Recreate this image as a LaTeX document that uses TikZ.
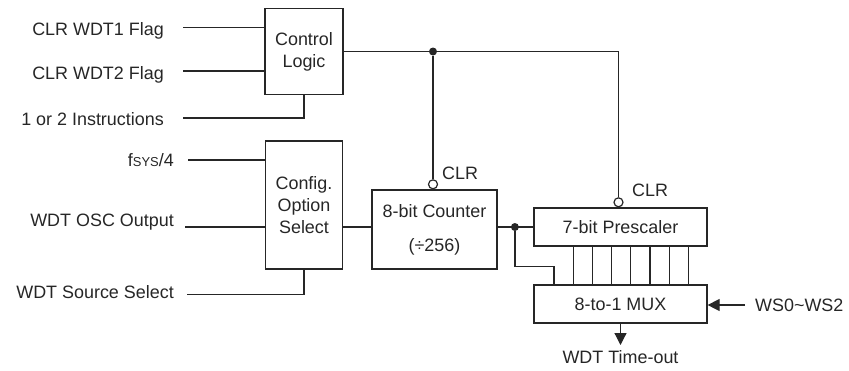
\documentclass[tikz,border=0pt]{standalone}
\usepackage{fontspec}
\setmainfont{Liberation Sans}
\usetikzlibrary{positioning,arrows.meta}
\begin{document}
\begin{tikzpicture}[x=1bp,y=-1bp,
		every node/.style={font=\fontsize{18}{22}\selectfont, text=black!85},
		wire/.style={draw=black!85, line width=1.2bp},
		block/.style={draw=black!85, line width=1.2bp, align=center, inner sep=0pt},
		lbl/.style={inner sep=0pt, text height=12.9bp, text depth=0pt},
		bubble/.style={circle, draw=black!85, fill=white, line width=1.2bp, minimum size=9bp, inner sep=0pt},
		dot/.style={circle, fill=black!85, minimum size=8bp, inner sep=0pt},
		tip/.style={-{Triangle[length=12bp,width=12bp]}}]
		\useasboundingbox (0,0) rectangle (849,370);

		% blocks
		\node[block, minimum width=78bp, minimum height=86bp] (ctrl) at (304,51.5) {Control\\Logic};
		\node[block, minimum width=77bp, minimum height=128bp] (cfg) at (304,205) {Config.\\Option\\Select};
		\node[block, minimum width=125bp, minimum height=79bp] (cnt) at (434.5,229.5) {8-bit Counter\\[12bp](÷256)};
		\node[block, minimum width=173bp, minimum height=38bp] (pre) at (620.5,227) {7-bit Prescaler};
		\node[block, minimum width=173bp, minimum height=38bp] (mux) at (620.5,304) {8-to-1 MUX};

		% input labels
		\node[lbl, anchor=east] (t1) at (164,29) {CLR WDT1 Flag};
		\node[lbl, anchor=east] (t2) at (164,73) {CLR WDT2 Flag};
		\node[lbl, anchor=east] (t3) at (164,119) {1 or 2 Instructions};
		\node[lbl, anchor=east] (t4) at (174,160.5) {f{\fontsize{13}{13}\selectfont SYS}/4};
		\node[lbl, anchor=east] (t5) at (174,220) {WDT OSC Output};
		\node[lbl, anchor=east] (t6) at (174,292.5) {WDT Source Select};

		\coordinate (a1) at (183,27.7);
		\coordinate (a2) at (183,71);
		\coordinate (a3) at (183,118);
		\coordinate (b1) at (188,160);
		\coordinate (b2) at (185,227);
		\coordinate (b3) at (187,294.3);

		\draw[wire] (a1) -- (a1 -| ctrl.west);
		\draw[wire] (a2) -- (a2 -| ctrl.west);
		\draw[wire] (a3) -| (ctrl.south);
		\draw[wire] (b1) -- (b1 -| cfg.west);
		\draw[wire] (b2) -- (b2 -| cfg.west);
		\draw[wire] (b3) -| (cfg.south);
		\draw[wire] (b2 -| cfg.east) -- (b2 -| cnt.west);

		% clear lines
		\node[bubble, anchor=south] (cb) at ([xshift=-1.5bp]cnt.north) {};
		\node[bubble, anchor=south] (pb) at ([xshift=-2bp]pre.north) {};
		\node[lbl, anchor=west] (cl1) at (442,173) {CLR};
		\node[lbl, anchor=west] (cl2) at (632,190) {CLR};
		\draw[wire] (ctrl.east) -| (pb.north);
		\node[dot] (j1) at (ctrl.east -| cb) {};
		\draw[wire] (j1) -- (cb.north);

		% counter to prescaler and mux
		\node[dot] (j2) at ([xshift=-18.5bp]pre.west) {};
		\draw[wire] (cnt.east |- j2) -- (pre.west);
		\coordinate (m0) at ([xshift=-66.5bp]mux.north);
		\draw[wire] (j2) |- ([yshift=18.3bp]m0) -- (m0);
		\foreach \i in {1,...,7}
			\draw[wire] ([xshift={-66.5bp+\i*19.2bp}]mux.north) -- ([xshift={-66.5bp+\i*19.2bp}]pre.south);

		% select and output
		\coordinate (ws) at (745,305);
		\draw[wire, tip] (ws) -- (ws -| mux.east);
		\node[lbl, anchor=west] (tws) at (755,305) {WS0\textasciitilde WS2};
		\node[lbl, anchor=north] (tout) at (620.5,350) {WDT Time-out};
		\draw[wire, tip] (mux.south) -- ([yshift=5bp]tout.north);
	\end{tikzpicture}
\end{document}
